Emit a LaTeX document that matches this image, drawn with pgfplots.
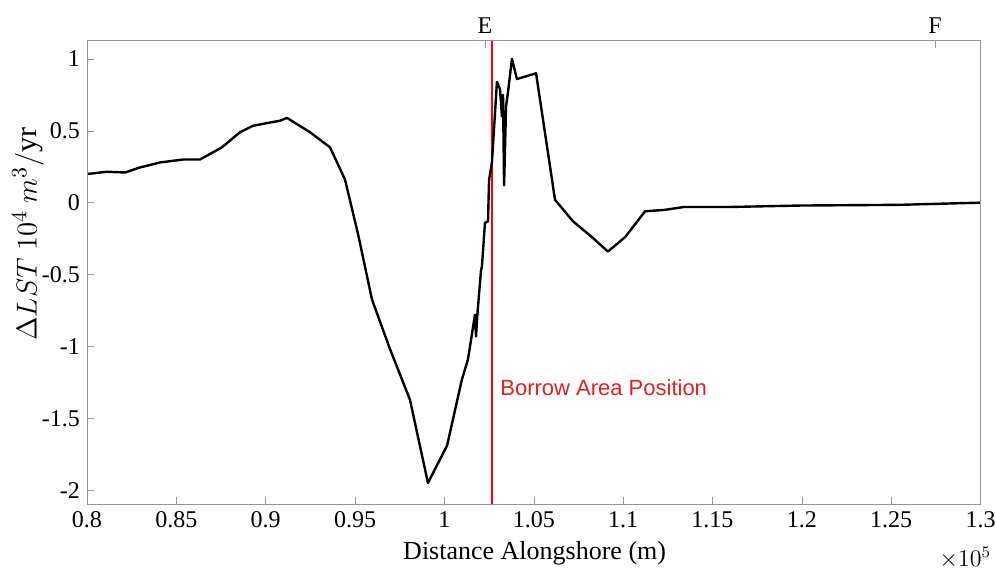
\documentclass[border=0pt]{standalone}
\usepackage{pgfplots}
\pgfplotsset{compat=1.18}
\usepackage{fontspec}
\setmainfont{Liberation Serif}
\newfontfamily\arialfont{Liberation Sans}
\definecolor{axgray}{RGB}{150,150,150}
\definecolor{borrowred}{RGB}{230,30,30}
\pgfplotstableread{
x y
0.8006 0.20
0.8112 0.215
0.8213 0.21
0.8297 0.245
0.8409 0.28
0.8537 0.30
0.8632 0.30
0.8755 0.385
0.8856 0.49
0.8929 0.535
0.9013 0.555
0.9080 0.57
0.9119 0.59
0.9164 0.555
0.9248 0.49
0.9360 0.385
0.9444 0.16
0.9517 -0.22
0.9595 -0.675
0.9696 -1.02
0.9807 -1.37
0.9908 -1.95
1.0015 -1.69
1.0098 -1.23
1.0132 -1.09
1.0171 -0.78
1.0177 -0.93
1.0185 -0.77
1.0205 -0.47
1.0210 -0.445
1.0227 -0.14
1.0244 -0.13
1.0250 0.16
1.0266 0.28
1.0294 0.84
1.0311 0.79
1.0322 0.60
1.0328 0.75
1.0334 0.12
1.0345 0.67
1.0356 0.77
1.0378 1.00
1.0406 0.86
1.0513 0.90
1.0619 0.02
1.0720 -0.13
1.0826 -0.24
1.0915 -0.34
1.1011 -0.24
1.1123 -0.06
1.1234 -0.05
1.1341 -0.03
1.1598 -0.03
1.1990 -0.02
1.2550 -0.015
1.2997 0.0
}\lstdata
\begin{document}
\begin{tikzpicture}
\useasboundingbox (-43.5pt,-33.25pt) rectangle (454.5pt,252.25pt);
\begin{axis}[
  at={(0,0)}, anchor=south west,
  scale only axis,
  width=446.75pt, height=231.9pt,
  xmin=0.8, xmax=1.3, ymin=-2.1, ymax=1.127,
  xtick={0.8,0.85,...,1.3},
  xticklabels={0.8,0.85,0.9,0.95,1,1.05,1.1,1.15,1.2,1.25,1.3},
  ytick={-2,-1.5,...,1},
  yticklabels={-2,-1.5,-1,-0.5,0,0.5,1},
  tick pos=left,
  tick align=inside,
  major tick length=3.5pt,
  axis line style={axgray},
  tick style={axgray},
  ticklabel style={font=\fontsize{12}{14}\selectfont, text=black},
  /pgf/number format/assume math mode=true,
  xlabel={Distance Alongshore (m)},
  xlabel style={font=\fontsize{13}{15}\selectfont, at={(axis description cs:0.501,0)}, anchor=north, yshift=-15pt},
  ylabel={$\Delta LST\ 10^4\ m^3/\mathrm{yr}$},
  ylabel style={font=\fontsize{15}{17}\selectfont, at={(axis description cs:-0.066,0.583)}, anchor=center},
  clip=false,
]
\addplot[color=red, line width=1pt, mark=none, forget plot] coordinates {(1.0264,-2.1) (1.0264,1.127)};
\addplot[black, line width=1.2pt, line join=round, no markers] table[x=x,y=y] {\lstdata};
\node[anchor=west, text=borrowred, font=\arialfont\fontsize{11}{13}\selectfont, inner sep=0pt] at (axis cs:1.0311,-1.29) {Borrow Area Position};
\node[font=\fontsize{12}{14}\selectfont, inner sep=0pt] at (axis description cs:0.983,-0.115) {$\times 10^5$};
\end{axis}
\begin{axis}[
  at={(0,0)}, anchor=south west,
  scale only axis,
  width=446.75pt, height=231.9pt,
  xmin=0.8, xmax=1.3, ymin=-2.1, ymax=1.127,
  axis x line*=top, axis y line=none,
  xtick={1.0227,1.2745},
  xticklabels={E,F},
  tick align=inside,
  major tick length=3.5pt,
  axis line style={axgray},
  tick style={axgray},
  ticklabel style={font=\fontsize{12}{14}\selectfont, text=black},
]
\addplot[draw=none] coordinates {(0.9,0)};
\end{axis}
\end{tikzpicture}
\end{document}
